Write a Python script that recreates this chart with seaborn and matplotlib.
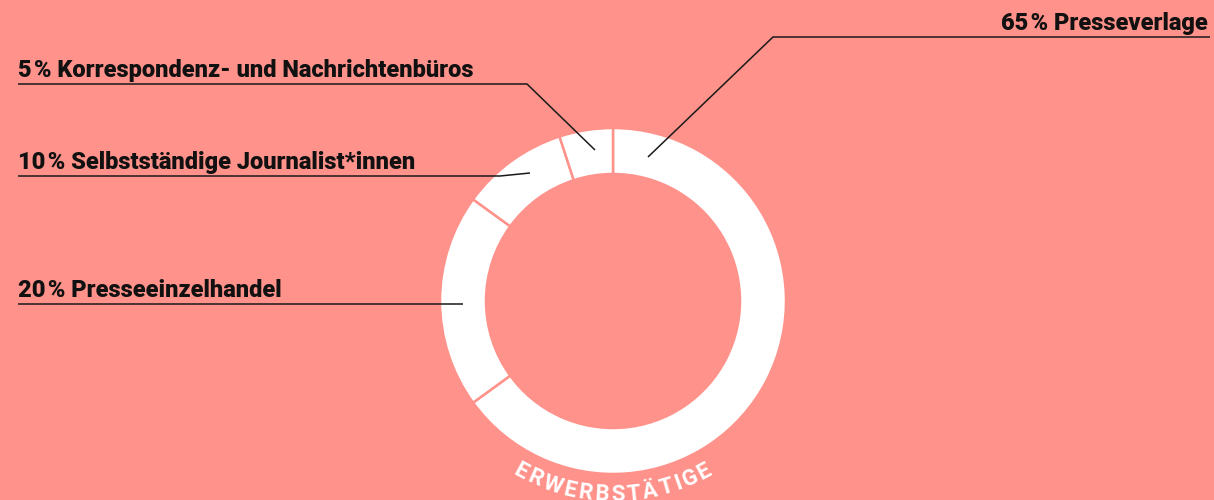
import matplotlib
matplotlib.use("Agg")
import matplotlib.pyplot as plt
import seaborn as sns
import numpy as np
from matplotlib.textpath import TextPath
from matplotlib.font_manager import FontProperties

# ---- data ----
categories = ["Presseverlage", "Presseeinzelhandel",
              "Selbstständige Journalist*innen", "Korrespondenz- und Nachrichtenbüros"]
shares = [65, 20, 10, 5]
center_title = "ERWERBSTÄTIGE"

BG = "#FF928A"
W, H = 1214, 500

sns.set_style("white")
plt.rcParams["font.family"] = ["Roboto", "DejaVu Sans"]

fig = plt.figure(figsize=(W / 100, H / 100), dpi=100, facecolor=BG)
ax = fig.add_axes([0, 0, 1, 1])
ax.set_facecolor(BG)

cx, cy = 613, H - 301
R, ring = 173, 46

ax.pie(shares, startangle=90, counterclock=False, center=(cx, cy), radius=R,
       colors=["white"] * len(shares),
       wedgeprops=dict(width=ring, edgecolor=BG, linewidth=1.8))

ax.set_xlim(0, W)
ax.set_ylim(0, H)
ax.set_aspect("equal")
ax.axis("off")

def py(y):
    return H - y

lc = "#1a1a1a"
lw = 1.1
fs = 17
fw = "heavy"
sp = "\u200a"
# 65% label (right)
ax.plot([1210, 773, 648], [py(37), py(37), py(157)], color=lc, lw=lw, solid_capstyle="butt")
ax.text(1208, py(30), f"{shares[0]}{sp}% {categories[0]}", ha="right", va="baseline",
        fontsize=fs, fontweight=fw, color="#111")
# 5%
ax.plot([18, 527, 595], [py(84), py(84), py(150)], color=lc, lw=lw, solid_capstyle="butt")
ax.text(18, py(77), f"{shares[3]}{sp}% {categories[3]}", ha="left", va="baseline",
        fontsize=fs, fontweight=fw, color="#111")
# 10%
ax.plot([18, 500, 530], [py(176), py(176), py(173)], color=lc, lw=lw, solid_capstyle="butt")
ax.text(18, py(169), f"{shares[2]}{sp}% {categories[2]}", ha="left", va="baseline",
        fontsize=fs, fontweight=fw, color="#111")
# 20%
ax.plot([18, 463], [py(304), py(304)], color=lc, lw=lw, solid_capstyle="butt")
ax.text(18, py(297), f"{shares[1]}{sp}% {categories[1]}", ha="left", va="baseline",
        fontsize=fs, fontweight=fw, color="#111")

# curved title along bottom arc
tfs = 16
fp = FontProperties(family="Roboto", weight="bold", size=tfs)
ref_w = TextPath((0, 0), "HH", prop=fp).get_extents().width
track = 2.2  # px between letters
widths = []
for ch in center_title:
    wpt = TextPath((0, 0), "H" + ch + "H", prop=fp).get_extents().width - ref_w
    widths.append(wpt * 100 / 72)
total = sum(widths) + track * (len(widths) - 1)
rt = 194
ang_total = total / rt
theta = -np.pi / 2 - ang_total / 2
for ch, wd in zip(center_title, widths):
    a = theta + (wd / 2) / rt
    x = cx + rt * np.cos(a)
    y = cy + rt * np.sin(a)
    ax.text(x, y, ch, rotation=np.degrees(a) + 90, rotation_mode="anchor",
            ha="center", va="center", fontsize=tfs, fontweight="bold", color="white")
    theta += (wd + track) / rt

fig.savefig("out.png", dpi=100, facecolor=BG)
